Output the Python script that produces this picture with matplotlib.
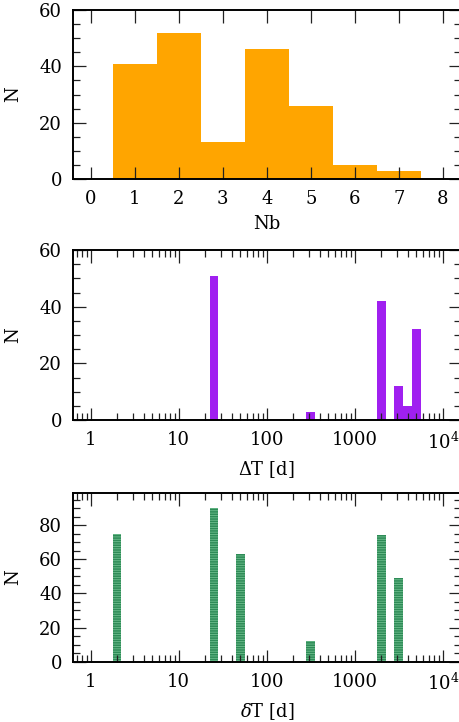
import numpy as np
import matplotlib
matplotlib.use("Agg")
import matplotlib.pyplot as plt
from matplotlib.ticker import MultipleLocator, FixedLocator, NullLocator, LogLocator, NullFormatter

plt.rcParams['font.family'] = ['DejaVu Serif']
plt.rcParams['mathtext.fontset'] = 'dejavuserif'
plt.rcParams['hatch.linewidth'] = 0.6

# ---- data ----
nb_values = [1, 2, 3, 4, 5, 6, 7]
nb_counts = [41, 52, 13, 46, 26, 5, 3]

dT_logcenters = [1.4, 2.5, 3.3, 3.5, 3.6, 3.7]   # log10(days)
dT_counts = [51, 3, 42, 12, 5, 32]

sT_logcenters = [0.3, 1.4, 1.7, 2.5, 3.3, 3.5]   # log10(days)
sT_counts = [75, 90, 63, 12, 74, 49]

log_bin = 0.1
log_ticks = [1, 10, 100, 1000, 10000]
log_ticklabels = ['1', '10', '100', '1000', r'$10^4$']

W, H = 459, 722
fig = plt.figure(figsize=(W / 100, H / 100), dpi=100)

left = 73 / W
width = (460.5 - 73) / W

def ax_rect(top_px, bot_px):
    return [left, 1 - bot_px / H, width, (bot_px - top_px) / H]

FS = 13
TICKC = '#222222'

def style(ax):
    ax.tick_params(which='both', direction='in', top=True, right=True,
                   colors=TICKC, labelcolor='black', labelsize=FS)
    ax.tick_params(which='major', length=9, width=0.9)
    ax.tick_params(which='minor', length=5, width=0.9)
    ax.tick_params(axis='x', which='both', pad=8)
    ax.tick_params(axis='y', which='both', pad=8)
    for s in ax.spines.values():
        s.set_linewidth(1.4)
        s.set_color('black')

# ---- top panel ----
ax1 = fig.add_axes(ax_rect(10, 179))
ax1.bar(nb_values, nb_counts, width=1.0, color='#FFA500', linewidth=0)
ax1.set_xlim(-0.4, 8.4)
ax1.set_ylim(0, 60)
ax1.xaxis.set_major_locator(MultipleLocator(1))
ax1.xaxis.set_minor_locator(NullLocator())
ax1.yaxis.set_major_locator(MultipleLocator(20))
ax1.yaxis.set_minor_locator(MultipleLocator(5))
style(ax1)
ax1.set_xlabel('Nb', fontsize=FS, labelpad=5)
ax1.set_ylabel('N', fontsize=FS, labelpad=12)

def log_hist(ax, centers, counts, color, **kw):
    lefts = [10 ** (c - log_bin / 2) for c in centers]
    rights = [10 ** (c + log_bin / 2) for c in centers]
    widths = [r - l for l, r in zip(lefts, rights)]
    ax.bar(lefts, counts, width=widths, align='edge', color=color, **kw)
    ax.set_xscale('log')
    ax.set_xlim(10 ** -0.2, 10 ** 4.2)
    ax.xaxis.set_major_locator(FixedLocator(log_ticks))
    ax.set_xticklabels(log_ticklabels)
    ax.xaxis.set_minor_locator(LogLocator(base=10, subs=np.arange(2, 10), numticks=20))
    ax.xaxis.set_minor_formatter(NullFormatter())

# ---- middle panel ----
ax2 = fig.add_axes(ax_rect(250, 420))
log_hist(ax2, dT_logcenters, dT_counts, '#A020F0', linewidth=0)
ax2.set_ylim(0, 60)
ax2.yaxis.set_major_locator(MultipleLocator(20))
ax2.yaxis.set_minor_locator(MultipleLocator(5))
style(ax2)
ax2.set_xlabel(r'$\Delta$T [d]', fontsize=FS, labelpad=5)
ax2.set_ylabel('N', fontsize=FS, labelpad=12)

# ---- bottom panel ----
ax3 = fig.add_axes(ax_rect(492.7, 661.7))
log_hist(ax3, sT_logcenters, sT_counts, '#2E8B57', linewidth=0,
         hatch='-------', edgecolor='#6FBF8F')
ax3.set_ylim(0, 99)
ax3.yaxis.set_major_locator(MultipleLocator(20))
ax3.yaxis.set_minor_locator(MultipleLocator(5))
style(ax3)
ax3.set_xlabel(r'$\delta$T [d]', fontsize=FS, labelpad=5)
ax3.set_ylabel('N', fontsize=FS, labelpad=12)

fig.savefig('out.png', dpi=100)
